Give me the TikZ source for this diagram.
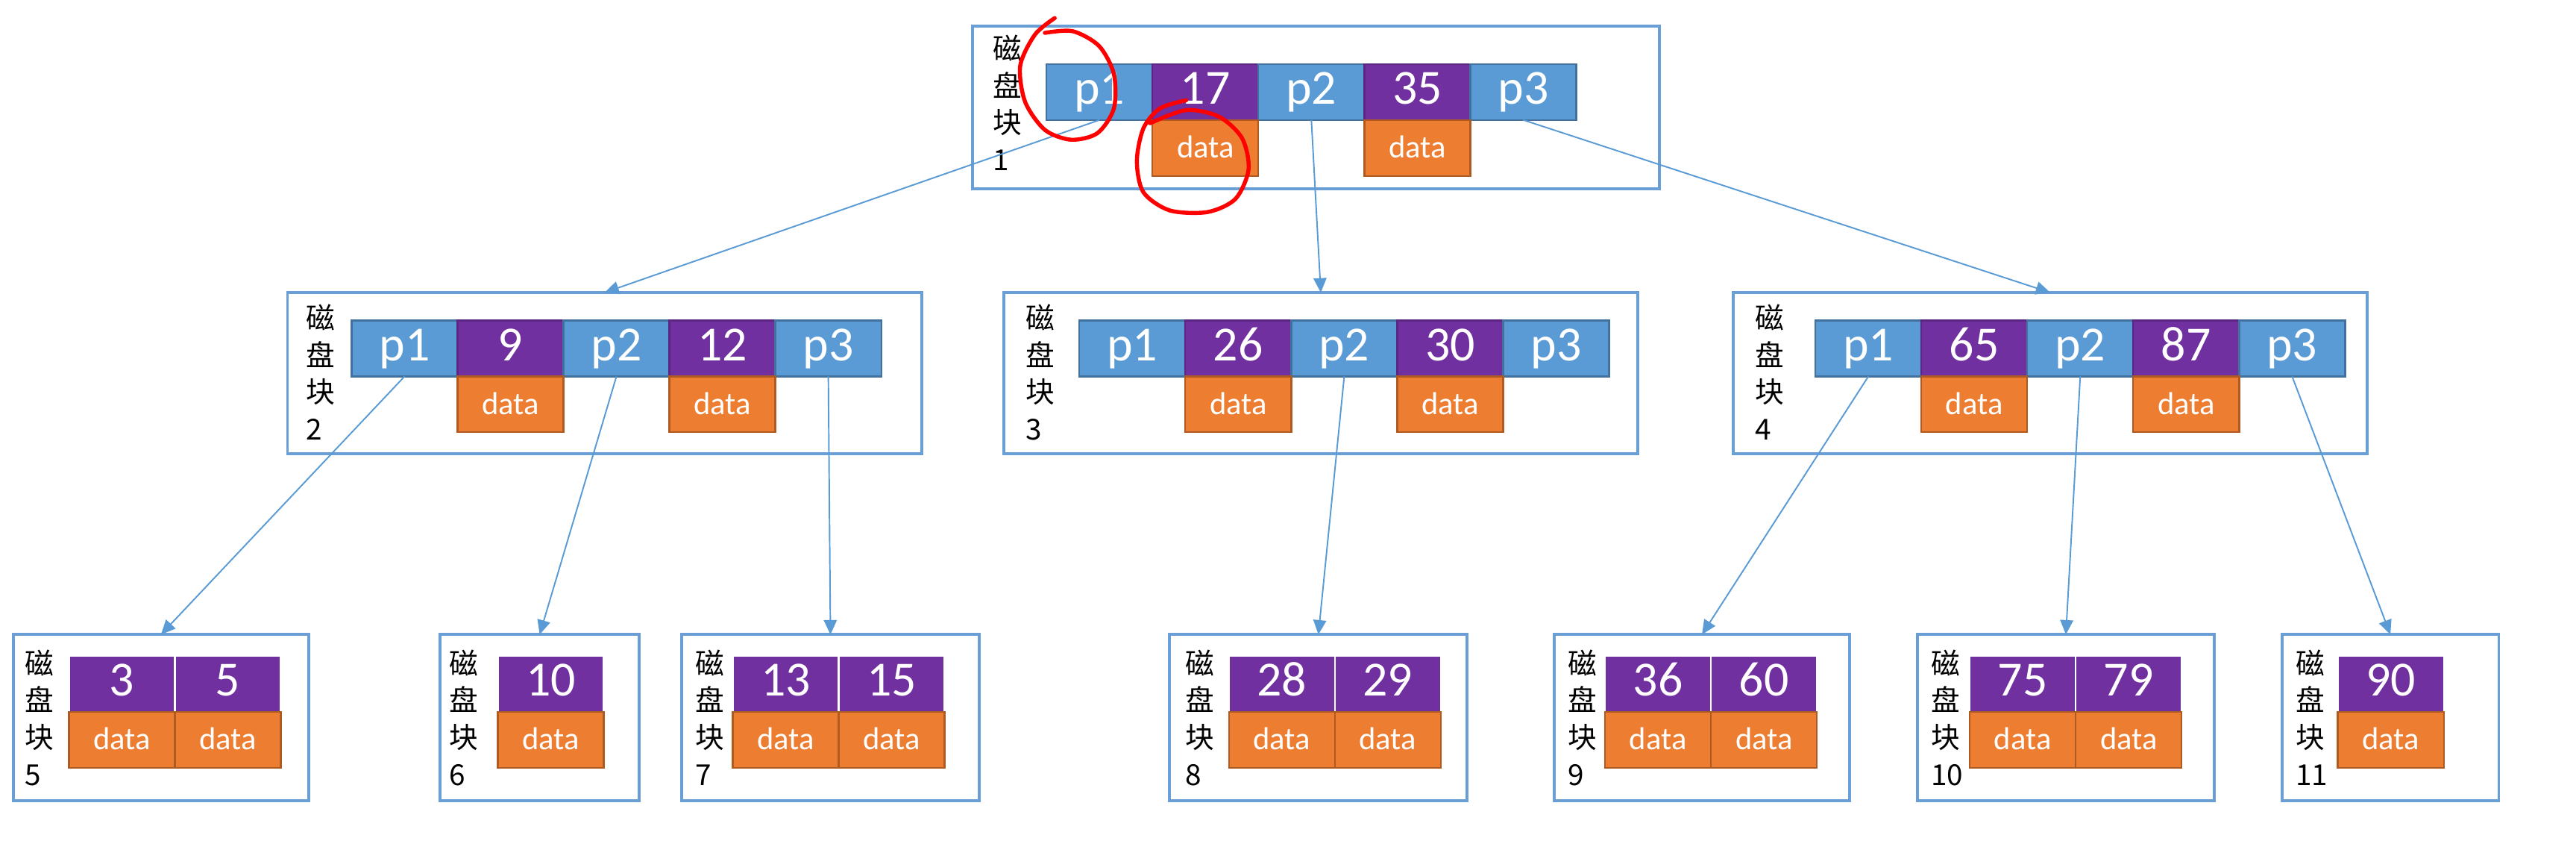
\documentclass[tikz,border=0pt]{standalone}
\usepackage{fontspec}
\setmainfont{Carlito}
\newfontfamily\cjkfont{Noto Sans CJK SC}
\usetikzlibrary{positioning,arrows.meta}

\definecolor{ptrblue}{HTML}{5B9BD5}
\definecolor{ptredge}{HTML}{41719C}
\definecolor{keypurple}{HTML}{7030A0}
\definecolor{keyedge}{HTML}{5A2682}
\definecolor{datorange}{HTML}{ED7D31}
\definecolor{datedge}{HTML}{AE5A21}
\definecolor{frameblue}{HTML}{6A9FD6}

\tikzset{
  cell/.style={minimum width=1.29cm, minimum height=0.68cm, inner sep=0pt, outer sep=0pt,
    text=white, line width=0.6pt},
  ptr/.style={cell, fill=ptrblue, draw=ptredge, font=\fontsize{17}{17}\selectfont,
    text height=10.5pt, text depth=2pt},
  key/.style={cell, fill=keypurple, draw=keyedge, font=\fontsize{17}{17}\selectfont,
    text height=10.5pt, text depth=2pt},
  leafkey/.style={key, draw=white},
  dat/.style={cell, fill=datorange, draw=datedge, font=\fontsize{11}{11}\selectfont,
    text height=7pt, text depth=0pt},
  blk/.style={draw=frameblue, line width=1pt, inner sep=0pt, outer sep=0pt, anchor=north west},
  lbl/.style={font=\cjkfont\fontsize{10}{12.8}\selectfont, align=left, inner sep=0pt,
    anchor=north west},
  link/.style={draw=ptrblue, line width=0.5pt, -{Triangle[length=5pt, width=4.5pt]}},
  scribble/.style={draw=red, line width=1.4pt, line cap=round, line join=round}
}

\begin{document}
\begin{tikzpicture}[x=0.02cm, y=-0.02cm]
  \useasboundingbox (0,0) rectangle (1568,513);

  % root
  \node[blk, minimum width=8.36cm, minimum height=1.98cm] (b1) at (592,16) {};
  \node[lbl] (b1l) at (604,21) {磁\\盘\\块\\1};
  \node[ptr, anchor=north west] (b1p1) at (637,39) {p1};
  \node[key, right=0pt of b1p1] (b1k1) {17};
  \node[ptr, right=0pt of b1k1] (b1p2) {p2};
  \node[key, right=0pt of b1p2] (b1k2) {35};
  \node[ptr, right=0pt of b1k2] (b1p3) {p3};
  \node[dat, below=0pt of b1k1] (b1d1) {data};
  \node[dat, below=0pt of b1k2] (b1d2) {data};

  % second level
  \node[blk, minimum width=7.72cm, minimum height=1.96cm] (b2) at (175,178) {};
  \node[lbl] (b2l) at (186,185) {磁\\盘\\块\\2};
  \node[ptr, anchor=north west] (b2p1) at (214,195) {p1};
  \node[key, right=0pt of b2p1] (b2k1) {9};
  \node[ptr, right=0pt of b2k1] (b2p2) {p2};
  \node[key, right=0pt of b2p2] (b2k2) {12};
  \node[ptr, right=0pt of b2k2] (b2p3) {p3};
  \node[dat, below=0pt of b2k1] (b2d1) {data};
  \node[dat, below=0pt of b2k2] (b2d2) {data};

  \node[blk, minimum width=7.72cm, minimum height=1.96cm] (b3) at (611,178) {};
  \node[lbl] (b3l) at (624,185) {磁\\盘\\块\\3};
  \node[ptr, anchor=north west] (b3p1) at (657,195) {p1};
  \node[key, right=0pt of b3p1] (b3k1) {26};
  \node[ptr, right=0pt of b3k1] (b3p2) {p2};
  \node[key, right=0pt of b3p2] (b3k2) {30};
  \node[ptr, right=0pt of b3k2] (b3p3) {p3};
  \node[dat, below=0pt of b3k1] (b3d1) {data};
  \node[dat, below=0pt of b3k2] (b3d2) {data};

  \node[blk, minimum width=7.72cm, minimum height=1.96cm] (b4) at (1055,178) {};
  \node[lbl] (b4l) at (1068,185) {磁\\盘\\块\\4};
  \node[ptr, anchor=north west] (b4p1) at (1105,195) {p1};
  \node[key, right=0pt of b4p1] (b4k1) {65};
  \node[ptr, right=0pt of b4k1] (b4p2) {p2};
  \node[key, right=0pt of b4p2] (b4k2) {87};
  \node[ptr, right=0pt of b4k2] (b4p3) {p3};
  \node[dat, below=0pt of b4k1] (b4d1) {data};
  \node[dat, below=0pt of b4k2] (b4d2) {data};

  % leaves
  \node[blk, minimum width=3.6cm, minimum height=2.02cm] (b5) at (8,386) {};
  \node[lbl] (b5l) at (15,395) {磁\\盘\\块\\5};
  \node[leafkey, anchor=north west] (b5k1) at (42,399) {3};
  \node[leafkey, right=0pt of b5k1] (b5k2) {5};
  \node[dat, below=0pt of b5k1] (b5d1) {data};
  \node[dat, below=0pt of b5k2] (b5d2) {data};

  \node[blk, minimum width=2.42cm, minimum height=2.02cm] (b6) at (268,386) {};
  \node[lbl] (b6l) at (273,395) {磁\\盘\\块\\6};
  \node[leafkey, anchor=north west] (b6k1) at (303,399) {10};
  \node[dat, below=0pt of b6k1] (b6d1) {data};

  \node[blk, minimum width=3.62cm, minimum height=2.02cm] (b7) at (415,386) {};
  \node[lbl] (b7l) at (423,395) {磁\\盘\\块\\7};
  \node[leafkey, anchor=north west] (b7k1) at (446,399) {13};
  \node[leafkey, right=0pt of b7k1] (b7k2) {15};
  \node[dat, below=0pt of b7k1] (b7d1) {data};
  \node[dat, below=0pt of b7k2] (b7d2) {data};

  \node[blk, minimum width=3.62cm, minimum height=2.02cm] (b8) at (712,386) {};
  \node[lbl] (b8l) at (721,395) {磁\\盘\\块\\8};
  \node[leafkey, anchor=north west] (b8k1) at (748,399) {28};
  \node[leafkey, right=0pt of b8k1] (b8k2) {29};
  \node[dat, below=0pt of b8k1] (b8d1) {data};
  \node[dat, below=0pt of b8k2] (b8d2) {data};

  \node[blk, minimum width=3.6cm, minimum height=2.02cm] (b9) at (946,386) {};
  \node[lbl] (b9l) at (954,395) {磁\\盘\\块\\9};
  \node[leafkey, anchor=north west] (b9k1) at (977,399) {36};
  \node[leafkey, right=0pt of b9k1] (b9k2) {60};
  \node[dat, below=0pt of b9k1] (b9d1) {data};
  \node[dat, below=0pt of b9k2] (b9d2) {data};

  \node[blk, minimum width=3.62cm, minimum height=2.02cm] (b10) at (1167,386) {};
  \node[lbl] (b10l) at (1175,395) {磁\\盘\\块\\10};
  \node[leafkey, anchor=north west] (b10k1) at (1199,399) {75};
  \node[leafkey, right=0pt of b10k1] (b10k2) {79};
  \node[dat, below=0pt of b10k1] (b10d1) {data};
  \node[dat, below=0pt of b10k2] (b10d2) {data};

  \node[blk, minimum width=2.64cm, minimum height=2.02cm] (b11) at (1389,386) {};
  \node[lbl] (b11l) at (1397,395) {磁\\盘\\块\\11};
  \node[leafkey, anchor=north west] (b11k1) at (1423,399) {90};
  \node[dat, below=0pt of b11k1] (b11d1) {data};

  % pointers
  \draw[link] (b1p1.south) -- (b2.north);
  \draw[link] (b1p2.south) -- (b3.north);
  \draw[link] (b1p3.south) -- (b4.north);
  \draw[link] (b2p1.south) -- (b5.north);
  \draw[link] (b2p2.south) -- (b6.north);
  \draw[link] (b2p3.south) -- (b7.north);
  \draw[link] (b3p2.south) -- (b8.north);
  \draw[link] (b4p1.south) -- (b9.north);
  \draw[link] (b4p2.south) -- (b10.north);
  \draw[link] (b4p3.south) -- (b11.north);

  % hand drawn rings
  \draw[scribble] plot[smooth] coordinates {(642,11) (630,21) (621,40) (624,62) (636,79)
    (652,85) (668,81) (678,66) (678,45) (669,28) (653,19) (636,20)};
  \draw[scribble] plot[smooth] coordinates {(722,61) (706,66) (696,78) (692,98) (696,117)
    (712,128) (735,129) (752,121) (760,103) (756,84) (742,71) (722,67) (700,75)};
\end{tikzpicture}
\end{document}
